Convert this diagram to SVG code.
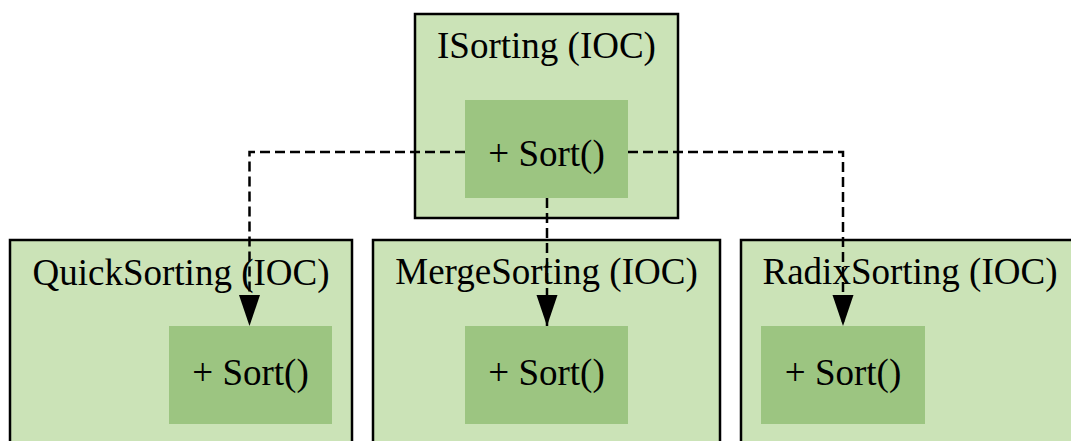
<svg xmlns="http://www.w3.org/2000/svg" width="1071" height="441" viewBox="0 0 1071 441">
  <style>
    .outer { fill: #cbe3b7; stroke: #000; stroke-width: 2.5; }
    .inner { fill: #9cc581; stroke: none; }
    .lbl { font-family: "Liberation Serif", "Times New Roman", serif; font-size: 37px; fill: #000; text-anchor: middle; }
    .edge { fill: none; stroke: #000; stroke-width: 2.5; stroke-dasharray: 10 5; }
  </style>
  <defs>
    <marker id="arrow" markerUnits="userSpaceOnUse" markerWidth="32" markerHeight="22" refX="31" refY="10.5" orient="auto">
      <path d="M0,0 L31,10.5 L0,21 Z" fill="#000"/>
    </marker>
  </defs>
  <rect width="1071" height="441" fill="#fff"/>

  <g id="ISorting">
    <rect class="outer" x="415" y="14" width="263" height="204"/>
    <text class="lbl" x="546.5" y="58">ISorting (IOC)</text>
    <rect class="inner" x="465" y="100" width="163" height="98"/>
    <text class="lbl" x="546.5" y="166">+ Sort()</text>
  </g>

  <g id="QuickSorting">
    <rect class="outer" x="10" y="240" width="342" height="220"/>
    <text class="lbl" x="181" y="285">QuickSorting (IOC)</text>
    <rect class="inner" x="169" y="326" width="163" height="98"/>
    <text class="lbl" x="250.5" y="385">+ Sort()</text>
  </g>

  <g id="MergeSorting">
    <rect class="outer" x="373" y="240" width="347" height="220"/>
    <text class="lbl" x="546.5" y="284">MergeSorting (IOC)</text>
    <rect class="inner" x="465" y="326" width="163" height="98"/>
    <text class="lbl" x="546.5" y="385">+ Sort()</text>
  </g>

  <g id="RadixSorting">
    <rect class="outer" x="741" y="240" width="340" height="220"/>
    <text class="lbl" x="910" y="284">RadixSorting (IOC)</text>
    <rect class="inner" x="761" y="326" width="164" height="98"/>
    <text class="lbl" x="843" y="385">+ Sort()</text>
  </g>

  <g id="connectors">
    <path class="edge" d="M465,152 H249.5 V326" marker-end="url(#arrow)"/>
    <path class="edge" d="M547,198 V326" marker-end="url(#arrow)"/>
    <path class="edge" d="M628,152 H843 V326" marker-end="url(#arrow)"/>
  </g>
</svg>
